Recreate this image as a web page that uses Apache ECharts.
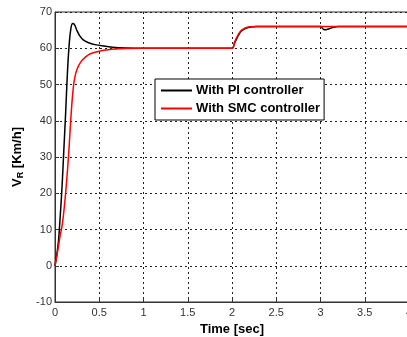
<!DOCTYPE html>
<html>
<head>
<meta charset="utf-8">
<script src="https://cdn.jsdelivr.net/npm/echarts@6/dist/echarts.min.js"></script>
<style>
  html, body { margin: 0; padding: 0; background: #fff; }
  #chart { width: 407px; height: 337px; }
</style>
</head>
<body>
<div id="chart"></div>
<script>
// 数据
var tPI = [0, 0.02, 0.04, 0.06, 0.08, 0.1, 0.12, 0.14, 0.16, 0.18, 0.2, 0.22, 0.25, 0.28, 0.32, 0.38, 0.45, 0.55, 0.65, 0.8, 1.0,
  2.0, 2.03, 2.06, 2.1, 2.15, 2.2, 2.28, 3.0, 3.03, 3.06, 3.1, 3.15, 3.2, 4.0];
var vPI = [0, 3, 7, 14, 22, 32, 42, 53, 61, 65.5, 66.8, 66.5, 64.8, 63.4, 62.3, 61.5, 61, 60.6, 60.3, 60.1, 60,
  60, 61.5, 63, 64.6, 65.4, 65.8, 66, 66, 65.3, 65.1, 65.4, 65.8, 66, 66];

var tSMC = [0, 0.02, 0.04, 0.06, 0.08, 0.1, 0.12, 0.14, 0.16, 0.18, 0.2, 0.22, 0.25, 0.3, 0.35, 0.4, 0.5, 0.6, 0.8, 1.0,
  2.0, 2.03, 2.06, 2.1, 2.15, 2.2, 2.3, 4.0];
var vSMC = [0, 2.5, 5.5, 8.5, 11, 15, 20, 26, 33, 41, 47.5, 51.5, 54.3, 56.5, 57.7, 58.5, 59.2, 59.6, 59.9, 60,
  60, 61.8, 63.3, 64.8, 65.6, 65.9, 66, 66];

var seriesNames = ['With PI controller', 'With SMC controller'];

function pairs(t, v) {
  var out = [];
  for (var i = 0; i < t.length; i++) out.push([t[i], v[i]]);
  return out;
}

var myChart = echarts.init(document.getElementById('chart'));

var gridLine = { show: true, lineStyle: { color: '#222', type: [2, 3], width: 1 } };

var option = {
  animation: false,
  backgroundColor: '#fff',
  grid: {
    left: 55, top: 12, right: -2, bottom: 35,
    outerBoundsMode: 'none',
    containLabel: false,
    show: true, borderColor: '#333', borderWidth: 1, backgroundColor: 'transparent'
  },
  legend: {
    orient: 'vertical',
    left: 155, top: 79,
    backgroundColor: '#fff',
    borderColor: '#000',
    borderWidth: 1,
    borderRadius: 0,
    padding: [4, 4, 4, 6],
    itemWidth: 31,
    itemHeight: 2,
    itemGap: 3,
    icon: 'rect',
    textStyle: { fontFamily: 'Liberation Sans', fontWeight: 'bold', fontSize: 13, lineHeight: 15, color: '#000', padding: [0, 0, 0, -1] },
    data: seriesNames
  },
  xAxis: {
    type: 'value',
    min: 0, max: 4, interval: 0.5,
    name: 'Time [sec]',
    nameLocation: 'middle',
    nameGap: 18,
    nameTextStyle: { fontFamily: 'Liberation Sans', fontWeight: 'bold', fontSize: 13, color: '#000' },
    axisLine: { show: true, onZero: false, lineStyle: { color: '#333', width: 1 } },
    axisTick: { show: true, inside: true, length: 4, lineStyle: { color: '#333' } },
    axisLabel: { fontFamily: 'Liberation Sans', fontSize: 11, color: '#333', margin: 5 },
    splitLine: gridLine
  },
  yAxis: {
    type: 'value',
    min: -10, max: 70, interval: 10,
    name: '{v|V}{s|R}{u| [Km/h]}',
    nameLocation: 'middle',
    nameGap: 30,
    nameRotate: 90,
    nameTextStyle: {
      rich: {
        v: { fontFamily: 'Liberation Sans', fontWeight: 'bold', fontSize: 13, color: '#000' },
        s: { fontFamily: 'Liberation Sans', fontWeight: 'bold', fontSize: 9, color: '#000', verticalAlign: 'bottom', padding: [6, 0, 0, 0] },
        u: { fontFamily: 'Liberation Sans', fontWeight: 'bold', fontSize: 13, color: '#000' }
      }
    },
    axisLine: { show: true, onZero: false, lineStyle: { color: '#333', width: 1 } },
    axisTick: { show: true, inside: true, length: 4, lineStyle: { color: '#333' } },
    axisLabel: { fontFamily: 'Liberation Sans', fontSize: 11, color: '#333', margin: 3 },
    splitLine: gridLine
  },
  series: [
    {
      name: seriesNames[0],
      type: 'line',
      data: pairs(tPI, vPI),
      smooth: 0.3,
      showSymbol: false,
      symbol: 'none',
      color: '#000',
      lineStyle: { color: '#000', width: 1.5 },
      z: 2
    },
    {
      name: seriesNames[1],
      type: 'line',
      data: pairs(tSMC, vSMC),
      smooth: 0.3,
      showSymbol: false,
      symbol: 'none',
      color: '#f00',
      lineStyle: { color: '#f00', width: 1.5 },
      z: 3
    }
  ]
};
myChart.setOption(option);
</script>
</body>
</html>
